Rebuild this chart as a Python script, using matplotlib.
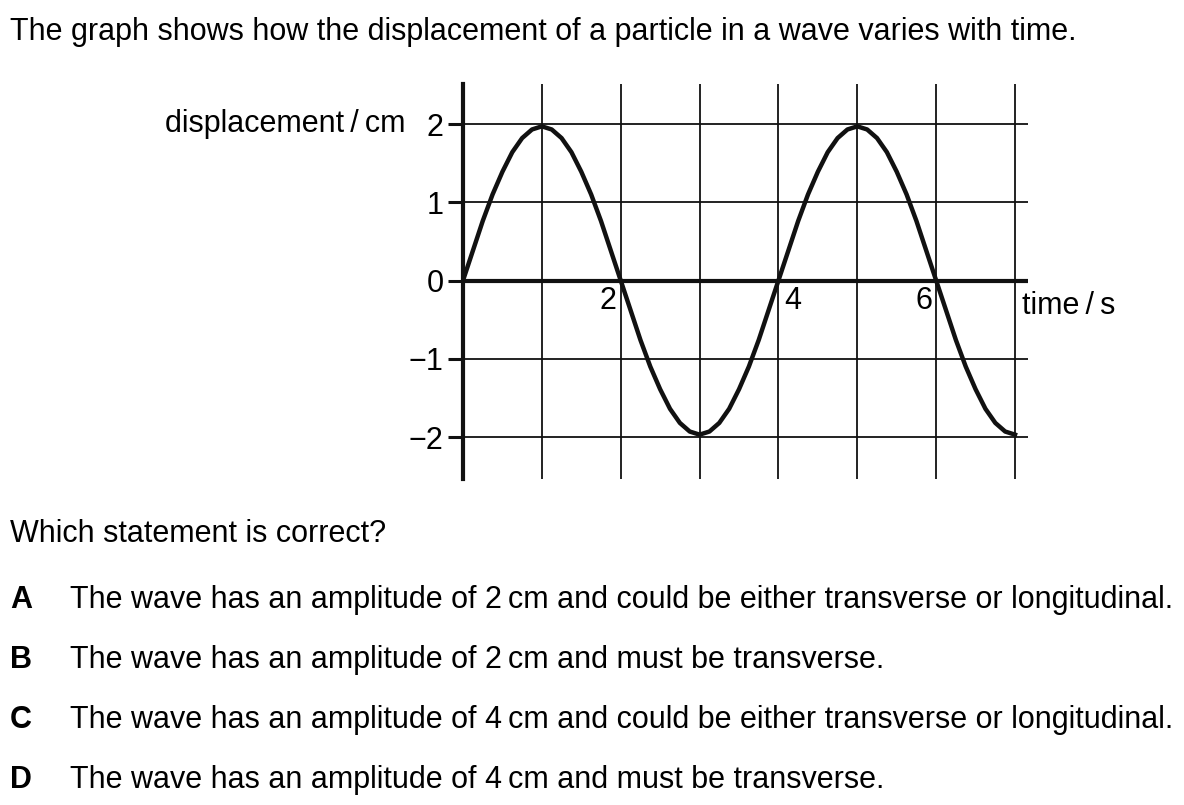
import matplotlib.pyplot as plt

plt.rcParams['font.family'] = ['Liberation Sans', 'DejaVu Sans']

# ---- Data ----
time_s = [0.000, 0.125, 0.250, 0.375, 0.500, 0.625, 0.750, 0.875,
          1.000, 1.125, 1.250, 1.375, 1.500, 1.625, 1.750, 1.875,
          2.000, 2.125, 2.250, 2.375, 2.500, 2.625, 2.750, 2.875,
          3.000, 3.125, 3.250, 3.375, 3.500, 3.625, 3.750, 3.875,
          4.000, 4.125, 4.250, 4.375, 4.500, 4.625, 4.750, 4.875,
          5.000, 5.125, 5.250, 5.375, 5.500, 5.625, 5.750, 5.875,
          6.000, 6.125, 6.250, 6.375, 6.500, 6.625, 6.750, 6.875,
          7.000]
disp_cm = [0.00, 0.38, 0.76, 1.10, 1.39, 1.64, 1.82, 1.93,
           1.97, 1.93, 1.82, 1.64, 1.39, 1.10, 0.76, 0.38,
           0.00, -0.38, -0.76, -1.10, -1.39, -1.64, -1.82, -1.93,
           -1.97, -1.93, -1.82, -1.64, -1.39, -1.10, -0.76, -0.38,
           0.00, 0.38, 0.76, 1.10, 1.39, 1.64, 1.82, 1.93,
           1.97, 1.93, 1.82, 1.64, 1.39, 1.10, 0.76, 0.38,
           0.00, -0.38, -0.76, -1.10, -1.39, -1.64, -1.82, -1.93,
           -1.97]

y_ticks = [-2, -1, 0, 1, 2]
y_ticklabels = ['\u22122', '\u22121', '0', '1', '2']
x_grid = [1, 2, 3, 4, 5, 6, 7]
x_labelled = [2, 4, 6]
x_label_side = ['left', 'right', 'left']   # which side of its grid line the number sits

title = 'The graph shows how the displacement of a particle in a wave varies with time.'
question = 'Which statement is correct?'
option_keys = ['A', 'B', 'C', 'D']
option_texts = [
    'The wave has an amplitude of 2\u2009cm and could be either transverse or longitudinal.',
    'The wave has an amplitude of 2\u2009cm and must be transverse.',
    'The wave has an amplitude of 4\u2009cm and could be either transverse or longitudinal.',
    'The wave has an amplitude of 4\u2009cm and must be transverse.',
]

# ---- Figure ----
W, H = 1184, 805
fig = plt.figure(figsize=(W / 100, H / 100), dpi=100)
FS = 22

# axes box in pixels: left 463, right 1027.5, top 84, bottom 479
ax = fig.add_axes([463 / W, (H - 479) / H, 564.5 / W, 395 / H])
ax.set_xlim(0, 564.5 / 78.86)
ax.set_ylim(-2.0 - 42 / 78.25, 2.0 + 40 / 78.25)

for xg in x_grid:
    ax.axvline(xg, color='#111111', lw=1.3, zorder=1)
for yg in y_ticks:
    if yg != 0:
        ax.axhline(yg, color='#111111', lw=1.3, zorder=1)
ax.axhline(0, color='#111111', lw=3.0, zorder=2)

ax.plot(time_s, disp_cm, color='#111111', lw=3.2, solid_joinstyle='round', zorder=3)

for s in ['top', 'right', 'bottom']:
    ax.spines[s].set_visible(False)
ax.spines['left'].set_linewidth(3.0)
ax.spines['left'].set_color('#111111')

ax.set_xticks([])
ax.set_yticks(y_ticks)
ax.set_yticklabels(y_ticklabels, fontsize=FS)
ax.tick_params(axis='y', direction='out', length=11, width=2.2, pad=3, color='#111111')

for xl, side in zip(x_labelled, x_label_side):
    if side == 'left':
        ax.text(xl - 0.05, -0.07, str(xl), ha='right', va='top', fontsize=FS)
    else:
        ax.text(xl + 0.07, -0.07, str(xl), ha='left', va='top', fontsize=FS)

ax.text(7.09, -0.33, 'time\u2009/\u2009s', ha='left', va='center', fontsize=FS)
ax.text(-0.73, 2.0, 'displacement\u2009/\u2009cm', ha='right', va='center', fontsize=FS)


# ---- Question text ----
def px_to_fig(x, y):
    return x / W, 1 - y / H


fig.text(*px_to_fig(10, 40), title, fontsize=FS, va='baseline', ha='left')
fig.text(*px_to_fig(10, 542), question, fontsize=FS, va='baseline', ha='left')
for i, (k, t) in enumerate(zip(option_keys, option_texts)):
    yb = 608 + 60 * i
    fig.text(*px_to_fig(10, yb), k, fontsize=FS, fontweight='bold', va='baseline', ha='left')
    fig.text(*px_to_fig(70, yb), t, fontsize=FS, va='baseline', ha='left')

fig.savefig('out.png', dpi=100)
